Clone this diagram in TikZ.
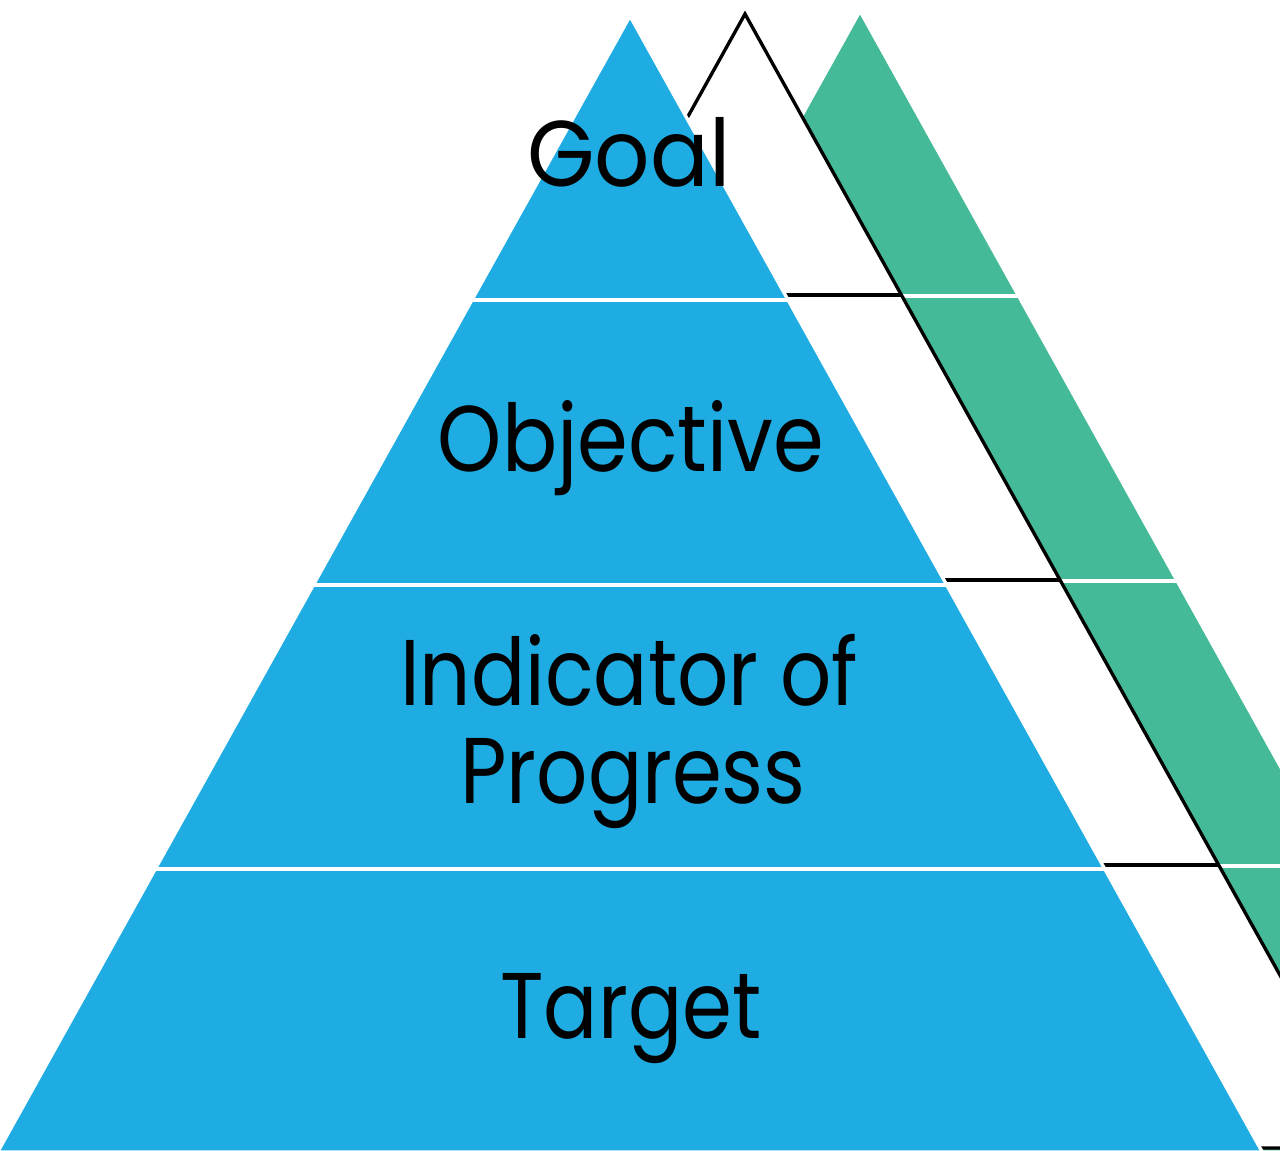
\documentclass[tikz,border=0pt]{standalone}
\usepackage{fontspec}
\setmainfont{Poppins}
\definecolor{pyrblue}{RGB}{30,172,227}
\definecolor{pyrgreen}{RGB}{68,186,152}
% half-width of every pyramid per unit of height
\newcommand{\pslope}{0.5566}
% #1 apex x, #2 apex y, #3 base y, #4 separator heights, #5 fill, #6 line colour
\newcommand{\pyramid}[6]{%
  \filldraw[fill=#5, draw=#6, line width=2.5pt, line join=miter]
    (#1,#2) -- ({#1+\pslope*(#3-#2)},#3) -- ({#1-\pslope*(#3-#2)},#3) -- cycle;
  \foreach \s in {#4}
    \draw[#6, line width=2.5pt] ({#1-\pslope*(\s-#2)},\s) -- ({#1+\pslope*(\s-#2)},\s);
}
% narrowed label text
\newcommand{\lbl}[2][0.86]{\scalebox{#1}[1]{#2}}
\tikzset{level/.style={font=\fontsize{70}{78}\selectfont, text=black, inner sep=0pt, anchor=base}}
\begin{document}
\begin{tikzpicture}[x=0.75pt, y=-0.75pt]
\useasboundingbox (0,0) rectangle (1280,1150);
\clip (0,0) rectangle (1280,1150);
% back pyramid
\pyramid{860}{11}{1152}{296,581,866}{pyrgreen}{white}
% outlined middle pyramid
\pyramid{745}{14}{1148}{295,580,865}{white}{black}
% front pyramid
\pyramid{630}{16}{1152}{300,585,869}{pyrblue}{white}
% level labels
\node[level] (goal) at (629,186) {\lbl[0.93]{Goal}};
\node[level] (objective) at (631,471) {\lbl[0.875]{Objective}};
\node[level] (indicator) at (629,705) {\lbl{Indicator of}};
\node[level] (progress) at (633,803) {\lbl{Progress}};
\node[level] (target) at (631,1038) {\lbl{Target}};
\end{tikzpicture}
\end{document}
